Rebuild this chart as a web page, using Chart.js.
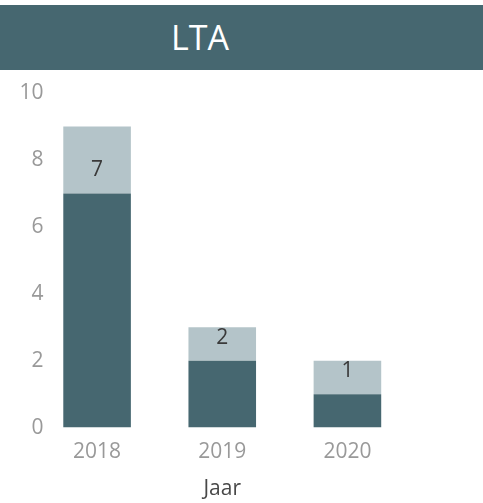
<!DOCTYPE html>
<html>
<head>
<meta charset="utf-8">
<script src="https://cdn.jsdelivr.net/npm/chart.js@4"></script>
<style>
  html, body { margin: 0; padding: 0; background: #fff; }
  #wrap { position: relative; width: 483px; height: 503px; overflow: hidden; }
  #banner {
    position: absolute; left: 0; top: 5px; width: 483px; height: 65px;
    background: #466770; color: #fff; font-family: "Open Sans", sans-serif;
    font-size: 34px; line-height: 65px; text-align: center; text-indent: -83px;
  }
  #chart { position: absolute; left: 0; top: 0; }
</style>
</head>
<body>
<div id="wrap">
  <div id="banner">LTA</div>
  <canvas id="chart" width="483" height="503"></canvas>
</div>
<script>
const categories = ['2018', '2019', '2020'];
const darkValues = [7, 2, 1];
const lightValues = [2, 1, 1];
const yTicks = [0, 2, 4, 6, 8, 10];

const darkColor = '#466770';
const lightColor = '#b4c4c9';
const fontFamily = '"Open Sans", sans-serif';

// draws the value of the dark series just above its segment
const darkLabels = {
    id: 'darkLabels',
    afterDatasetsDraw(chart) {
        const ctx = chart.ctx;
        const meta = chart.getDatasetMeta(0);
        ctx.save();
        ctx.font = '21px ' + fontFamily;
        ctx.fillStyle = '#3a3a3a';
        ctx.textAlign = 'center';
        ctx.textBaseline = 'middle';
        meta.data.forEach(function (bar, i) {
            ctx.fillText(String(darkValues[i]), bar.x, bar.y - 23);
        });
        ctx.restore();
    }
};

let ctx = document.getElementById('chart').getContext('2d');
let myChart = new Chart(ctx, {
    type: 'bar',
    data: {
        labels: categories,
        datasets: [{
            label: 'dark',
            data: darkValues,
            backgroundColor: darkColor,
            barPercentage: 0.54,
            categoryPercentage: 1
        }, {
            label: 'light',
            data: lightValues,
            backgroundColor: lightColor,
            barPercentage: 0.54,
            categoryPercentage: 1
        }]
    },
    options: {
        responsive: false,
        animation: false,
        layout: { padding: { top: 93, right: 73, bottom: 1, left: 34.5 } },
        plugins: {
            legend: { display: false },
            tooltip: { enabled: false }
        },
        scales: {
            x: {
                stacked: true,
                grid: { display: false, drawTicks: false },
                border: { display: false },
                ticks: {
                    padding: 12,
                    color: '#999',
                    font: { family: fontFamily, size: 21 }
                },
                title: {
                    display: true,
                    text: 'Jaar',
                    color: '#484848',
                    padding: { top: 0, bottom: 0 },
                    font: { family: fontFamily, size: 21 }
                }
            },
            y: {
                stacked: true,
                min: 0,
                max: 10,
                afterBuildTicks: function (axis) {
                    axis.ticks = yTicks.map(function (v) { return { value: v }; });
                },
                afterFit: function (axis) { axis.width = 0; },
                grid: { display: false, drawTicks: false },
                border: { display: false },
                ticks: {
                    mirror: true,
                    crossAlign: 'far',
                    padding: -15,
                    color: '#999',
                    font: { family: fontFamily, size: 21 }
                }
            }
        }
    },
    plugins: [darkLabels]
});
</script>
</body>
</html>
